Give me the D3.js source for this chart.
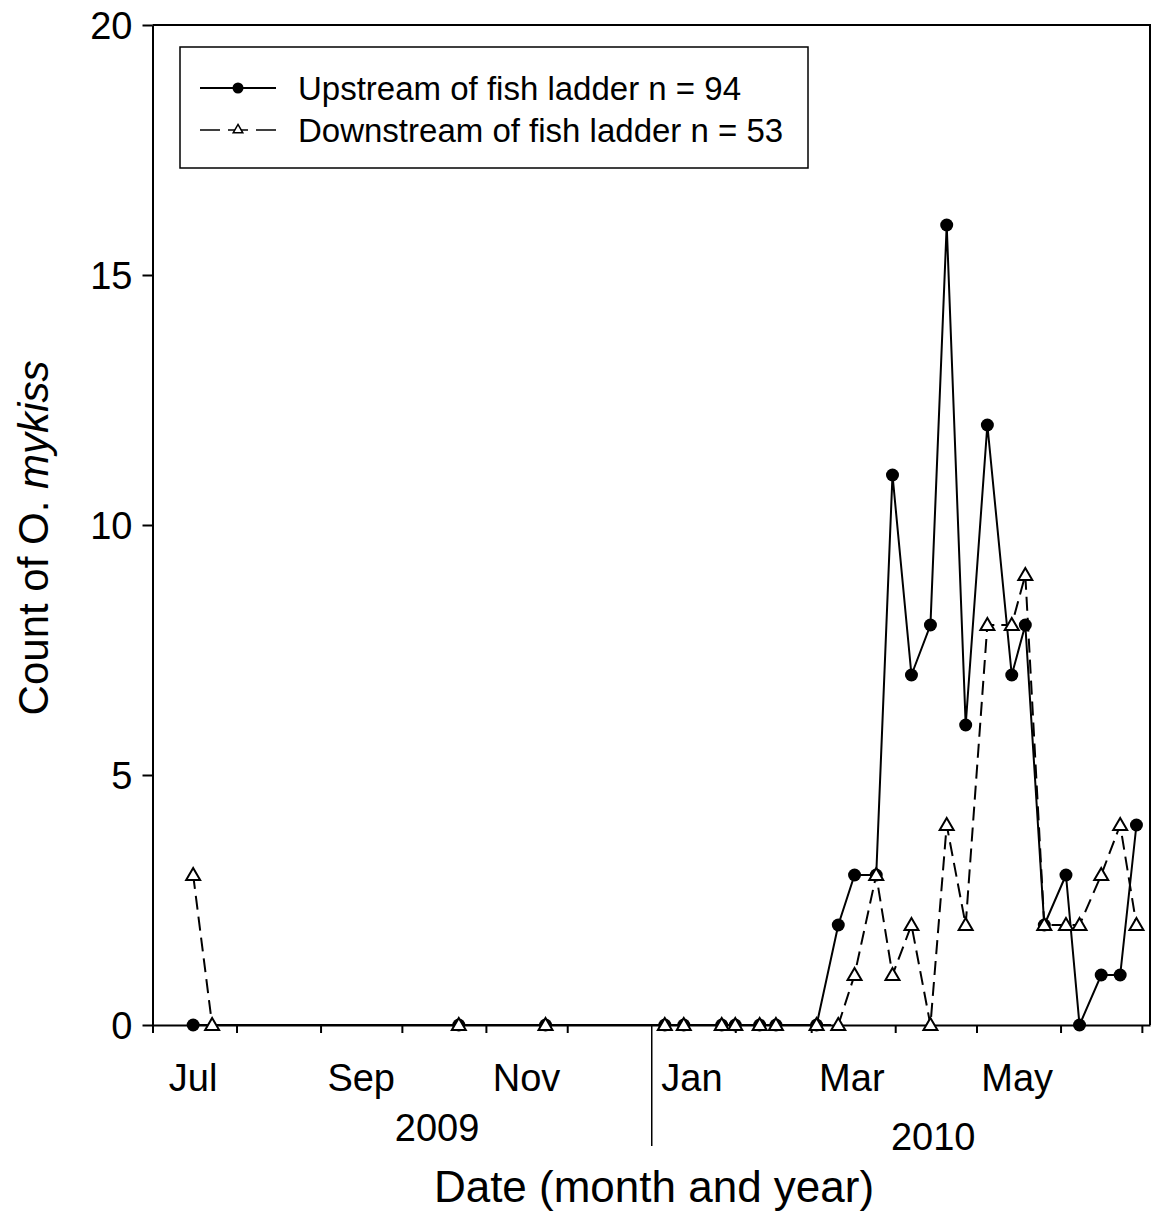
<!DOCTYPE html>
<html>
<head>
<meta charset="utf-8">
<script src="https://cdn.jsdelivr.net/npm/d3@7"></script>
<style>
  body { margin: 0; background: #fff; }
  text { font-family: "Liberation Sans", Arial, sans-serif; fill: #000; }
</style>
</head>
<body>
<div id="chart"></div>
<script>
// sampling dates and counts
const upDates = ["2009-07-16","2009-10-22","2009-11-23","2010-01-06","2010-01-13","2010-01-27","2010-02-01",
  "2010-02-10","2010-02-16","2010-03-03","2010-03-11","2010-03-17","2010-03-25","2010-03-31","2010-04-07",
  "2010-04-14","2010-04-20","2010-04-27","2010-05-05","2010-05-14","2010-05-19","2010-05-26","2010-06-03",
  "2010-06-08","2010-06-16","2010-06-23","2010-06-29"];
const upCounts = [0,0,0,0,0,0,0, 0,0,0,2,3,3,11,7, 8,16,6,12,7,8,2,3, 0,1,1,4];

const downDates = ["2009-07-16","2009-07-23","2009-10-22","2009-11-23","2010-01-06","2010-01-13","2010-01-27",
  "2010-02-01","2010-02-10","2010-02-16","2010-03-03","2010-03-11","2010-03-17","2010-03-25","2010-03-31",
  "2010-04-07","2010-04-14","2010-04-20","2010-04-27","2010-05-05","2010-05-14","2010-05-19","2010-05-26",
  "2010-06-03","2010-06-08","2010-06-16","2010-06-23","2010-06-29"];
const downCounts = [3,0,0,0,0,0,0, 0,0,0,0,0,1,3,1, 2,0,4,2,8,8,9,2, 2,2,3,4,2];

const yTicks = [0, 5, 10, 15, 20];
const monthLabels = ["2009-07","2009-09","2009-11","2010-01","2010-03","2010-05"];
const yearLabels = ["2009", "2010"];
const legendNames = ["Upstream of fish ladder n = 94", "Downstream of fish ladder n = 53"];

const width = 1152, height = 1215;
const margin = {top: 25, right: 2, bottom: 190, left: 152.5};

const parse = d3.timeParse("%Y-%m-%d");
const parseMonth = d3.timeParse("%Y-%m");
const fmtMonth = d3.timeFormat("%b");

const upstream = upDates.map((d, i) => ({date: parse(d), value: upCounts[i]}));
const downstream = downDates.map((d, i) => ({date: parse(d), value: downCounts[i]}));

const svg = d3.select("#chart").append("svg")
  .attr("width", width)
  .attr("height", height);

const x = d3.scaleTime()
  .domain([new Date(2009, 6, 1), new Date(2010, 6, 4)])
  .range([margin.left, width - margin.right]);

const y = d3.scaleLinear()
  .domain([0, 20])
  .range([height - margin.bottom, margin.top]);

// frame (top and right)
svg.append("path")
  .attr("d", `M${x.range()[0]},${y(20)}H${x.range()[1]}V${y(0)}`)
  .attr("fill", "none")
  .attr("stroke", "#000")
  .attr("stroke-width", 2);

// y axis
const yAxis = svg.append("g")
  .attr("transform", `translate(${margin.left},0)`)
  .call(d3.axisLeft(y).tickValues(yTicks).tickSize(10).tickSizeOuter(0).tickPadding(10));
yAxis.select(".domain").attr("stroke-width", 2);
yAxis.selectAll(".tick line").attr("stroke-width", 2);
yAxis.selectAll(".tick text").style("font-size", "38px").attr("dy", "0.35em");

// x axis, month ticks without labels
const xAxis = svg.append("g")
  .attr("transform", `translate(0,${y(0)})`)
  .call(d3.axisBottom(x).ticks(d3.timeMonth.every(1)).tickFormat("").tickSize(8).tickSizeOuter(0));
xAxis.select(".domain").attr("stroke-width", 2);
xAxis.selectAll(".tick line")
  .attr("y2", d => (d.getMonth() === 0 ? 121 : 8))
  .attr("stroke-width", d => (d.getMonth() === 0 ? 1.5 : 2));

// month labels at mid-month
svg.append("g")
  .selectAll("text")
  .data(monthLabels)
  .join("text")
  .attr("x", d => { const m = parseMonth(d); return x(new Date(m.getFullYear(), m.getMonth(), 16)); })
  .attr("y", 1091)
  .attr("text-anchor", "middle")
  .style("font-size", "38px")
  .text(d => fmtMonth(parseMonth(d)));

// year labels
const yearAt = [new Date(2009, 9, 14), new Date(2010, 3, 15)];
const yearY = [1141, 1150];
svg.append("g")
  .selectAll("text")
  .data(yearLabels)
  .join("text")
  .attr("x", (d, i) => x(yearAt[i]))
  .attr("y", (d, i) => yearY[i])
  .attr("text-anchor", "middle")
  .style("font-size", "38px")
  .text(d => d);

// axis titles
svg.append("text")
  .attr("x", 654)
  .attr("y", 1202)
  .attr("text-anchor", "middle")
  .style("font-size", "44px")
  .text("Date (month and year)");

const yTitle = svg.append("text")
  .attr("transform", "translate(48,538) rotate(-90)")
  .attr("text-anchor", "middle")
  .style("font-size", "42px");
yTitle.append("tspan").text("Count of O. ");
yTitle.append("tspan").style("font-style", "italic").text("mykiss");

// series
const line = d3.line().x(d => x(d.date)).y(d => y(d.value));

svg.append("path")
  .datum(upstream)
  .attr("d", line)
  .attr("fill", "none")
  .attr("stroke", "#000")
  .attr("stroke-width", 2);

svg.append("g")
  .selectAll("circle")
  .data(upstream)
  .join("circle")
  .attr("cx", d => x(d.date))
  .attr("cy", d => y(d.value))
  .attr("r", 6.5)
  .attr("fill", "#000");

svg.append("path")
  .datum(downstream)
  .attr("d", line)
  .attr("fill", "none")
  .attr("stroke", "#000")
  .attr("stroke-width", 2)
  .attr("stroke-dasharray", "14,7");

const tri = d3.symbol().type(d3.symbolTriangle).size(85);
svg.append("g")
  .selectAll("path")
  .data(downstream)
  .join("path")
  .attr("d", tri)
  .attr("transform", d => `translate(${x(d.date)},${y(d.value) + 1})`)
  .attr("fill", "#fff")
  .attr("stroke", "#000")
  .attr("stroke-width", 2);

// legend
const legend = svg.append("g");
legend.append("rect")
  .attr("x", 180).attr("y", 47)
  .attr("width", 628).attr("height", 121)
  .attr("fill", "#fff")
  .attr("stroke", "#000")
  .attr("stroke-width", 1.5);

const rowY = [88, 130];
legend.append("line")
  .attr("x1", 200).attr("x2", 276).attr("y1", rowY[0]).attr("y2", rowY[0])
  .attr("stroke", "#000").attr("stroke-width", 2);
legend.append("circle")
  .attr("cx", 238).attr("cy", rowY[0]).attr("r", 5.5).attr("fill", "#000");

legend.append("line")
  .attr("x1", 200).attr("x2", 276).attr("y1", rowY[1]).attr("y2", rowY[1])
  .attr("stroke", "#000").attr("stroke-width", 1.5)
  .attr("stroke-dasharray", "20,8,20,8,20");
legend.append("path")
  .attr("d", d3.symbol().type(d3.symbolTriangle).size(40))
  .attr("transform", `translate(238,${rowY[1]})`)
  .attr("fill", "#fff").attr("stroke", "#000").attr("stroke-width", 1.5);

legend.selectAll("text.lab")
  .data(legendNames)
  .join("text")
  .attr("class", "lab")
  .attr("x", 298)
  .attr("y", (d, i) => rowY[i] + 12)
  .style("font-size", "33px")
  .text(d => d);
</script>
</body>
</html>
